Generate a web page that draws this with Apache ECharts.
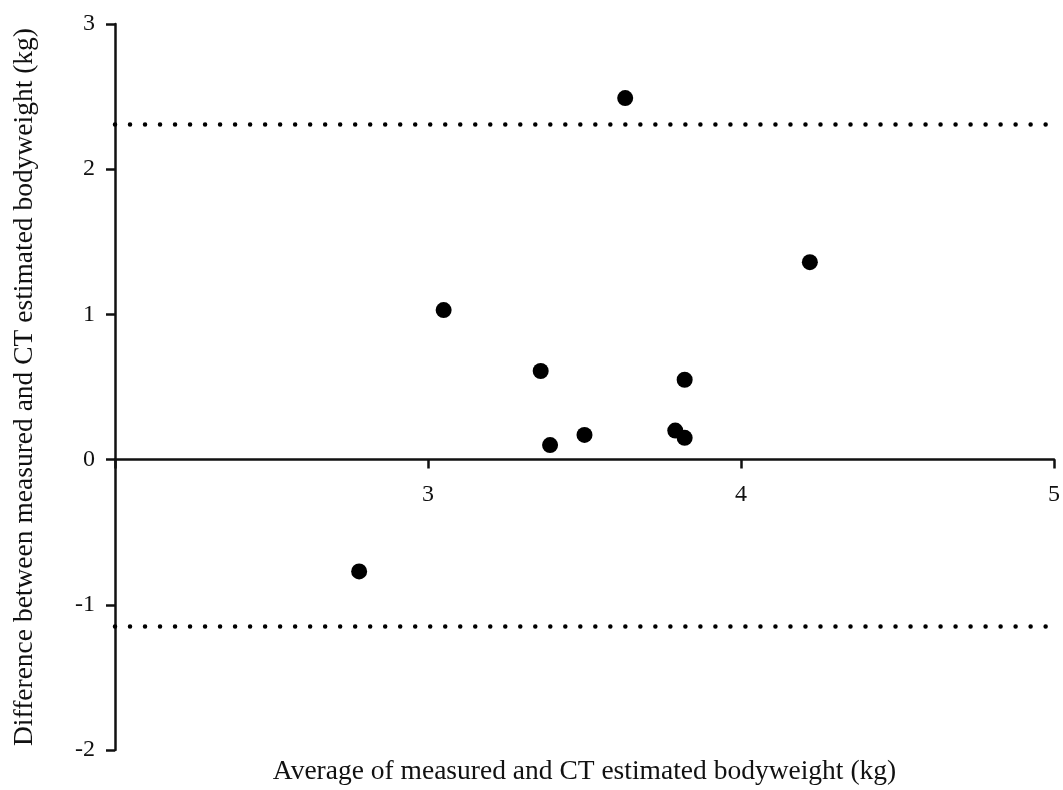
<!DOCTYPE html>
<html>
<head>
<meta charset="utf-8">
<script src="https://cdn.jsdelivr.net/npm/echarts@6/dist/echarts.min.js"></script>
<style>
  html, body { margin: 0; padding: 0; background: #fff; }
  #main { width: 1063px; height: 790px; }
</style>
</head>
<body>
<div id="main"></div>
<script>
// average of measured and CT estimated bodyweight (kg)
const avgWeight = [2.78, 3.05, 3.36, 3.39, 3.50, 3.63, 3.79, 3.82, 3.82, 4.22]
// difference between measured and CT estimated bodyweight (kg)
const diffWeight = [-0.77, 1.03, 0.61, 0.10, 0.17, 2.49, 0.20, 0.55, 0.15, 1.36]
// limits of agreement
const upperLimit = 2.31
const lowerLimit = -1.15

const points = avgWeight.map((x, i) => [x, diffWeight[i]])

const serif = 'Liberation Serif'
const chart = echarts.init(document.getElementById('main'))

// grid is 726px tall for -2..3, so y=0 sits 2/5 of the way up
const gridH = 790 - 24 - 40
const zeroOffset = -gridH * 2 / 5

const option = {
  backgroundColor: '#fff',
  animation: false,
  grid: { left: 115, right: 9, top: 24, bottom: 40, outerBoundsMode: 'none', containLabel: false },
  xAxis: {
    type: 'value',
    position: 'bottom',
    offset: zeroOffset,
    min: 2,
    max: 5,
    interval: 1,
    name: 'Average of measured and CT estimated bodyweight (kg)',
    nameLocation: 'middle',
    nameGap: 298,
    nameTextStyle: { fontFamily: serif, fontSize: 27.5, color: '#111' },
    axisLine: { onZero: false, lineStyle: { color: '#111', width: 2.5 } },
    axisTick: { show: true, length: 9, lineStyle: { color: '#111', width: 2.5 } },
    axisLabel: {
      margin: 23,
      fontFamily: serif,
      fontSize: 24,
      color: '#111',
      formatter: function (v) { return v === 2 ? '' : String(v) }
    },
    splitLine: { show: false }
  },
  yAxis: {
    type: 'value',
    min: -2,
    max: 3,
    interval: 1,
    name: 'Difference between measured and CT estimated bodyweight (kg)',
    nameLocation: 'middle',
    nameGap: 76,
    nameTextStyle: { fontFamily: serif, fontSize: 27.5, color: '#111' },
    axisLine: { show: true, onZero: false, lineStyle: { color: '#111', width: 2.5 } },
    axisTick: { show: true, length: 9, lineStyle: { color: '#111', width: 2.5 } },
    axisLabel: { margin: 20, fontFamily: serif, fontSize: 24, color: '#111' },
    splitLine: { show: false }
  },
  series: [
    {
      type: 'scatter',
      data: points,
      symbol: 'circle',
      symbolSize: 16,
      itemStyle: { color: '#000', opacity: 1 },
      markLine: {
        silent: true,
        symbol: ['none', 'none'],
        label: { show: false },
        lineStyle: { color: '#000', width: 4.5, type: [0.01, 15], cap: 'round', opacity: 1 },
        data: [{ yAxis: upperLimit }, { yAxis: lowerLimit }]
      }
    }
  ]
}

chart.setOption(option)
</script>
</body>
</html>
